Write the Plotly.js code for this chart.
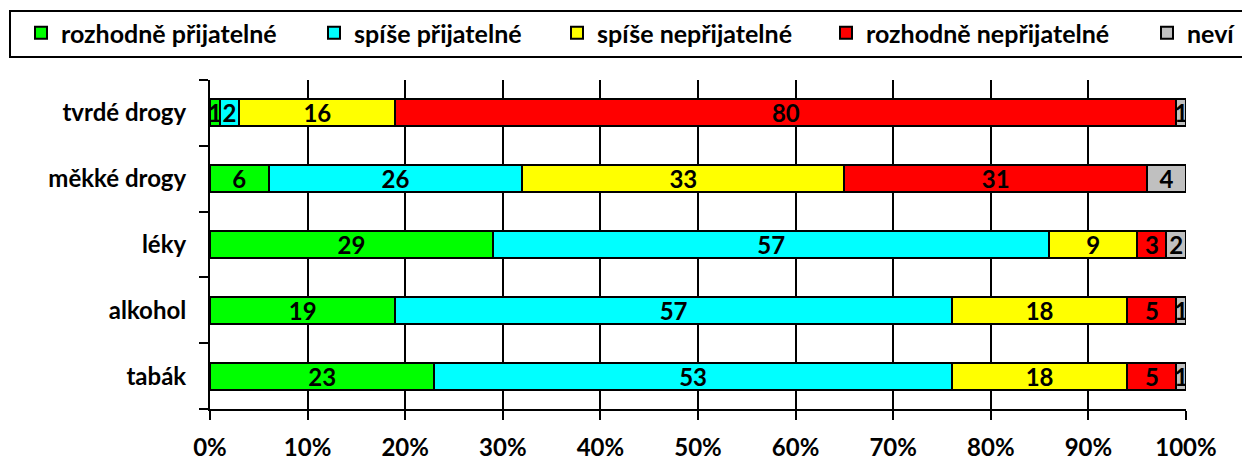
<!DOCTYPE html>
<html>
<head>
<meta charset="utf-8">
<script src="https://cdn.plot.ly/plotly-3.0.1.min.js"></script>
<style>html,body{margin:0;padding:0;background:#fff;}#chart{width:1242px;height:463px;}</style>
</head>
<body>
<div id="chart"></div>
<script>
// Categories, bottom to top
const categories = ['tabák', 'alkohol', 'léky', 'měkké drogy', 'tvrdé drogy'];
const seriesNames = ['rozhodně přijatelné', 'spíše přijatelné', 'spíše nepřijatelné', 'rozhodně nepřijatelné', 'neví'];
const rozhodnePrijatelne   = [23, 19, 29, 6, 1];
const spisePrijatelne      = [53, 57, 57, 26, 2];
const spiseNeprijatelne    = [18, 18, 9, 33, 16];
const rozhodneNeprijatelne = [5, 5, 3, 31, 80];
const nevi                 = [1, 1, 2, 4, 1];
const xTickValues = [0, 10, 20, 30, 40, 50, 60, 70, 80, 90, 100];

const seriesValues = [rozhodnePrijatelne, spisePrijatelne, spiseNeprijatelne, rozhodneNeprijatelne, nevi];
const colors = ['#00FF00', '#00FFFF', '#FFFF00', '#FF0000', '#C0C0C0'];
const FONT = 'Lato, Carlito, Calibri, "Open Sans", sans-serif';
const legendIds = ['legend', 'legend2', 'legend3', 'legend4', 'legend5'];
const legendSquareX = [37, 330, 573, 842, 1163]; // pixel position of each legend entry

const traces = seriesValues.map((vals, i) => ({
  type: 'bar',
  orientation: 'h',
  name: seriesNames[i],
  legend: legendIds[i],
  y: categories,
  x: vals,
  text: vals.map(String),
  textposition: 'inside',
  insidetextanchor: 'middle',
  constraintext: 'none',
  textangle: 0,
  textfont: {family: FONT, size: 24, color: '#000', weight: 700},
  marker: {color: colors[i], line: {color: '#000', width: 2}},
  hoverinfo: 'none'
}));

const plotW = 1242 - 210 - 56;
const plotH = 463 - 80 - 54;
const px = v => (v - 210) / plotW;
const py = v => (409 - v) / plotH;

const layout = {
  width: 1242, height: 463,
  margin: {l: 210, r: 56, t: 80, b: 54, autoexpand: false},
  barmode: 'stack',
  bargap: 0.59,
  paper_bgcolor: '#fff', plot_bgcolor: '#fff',
  font: {family: FONT, size: 24, color: '#000', weight: 700},
  showlegend: true,
  xaxis: {
    range: [0, 100],
    tickmode: 'array', tickvals: xTickValues,
    ticktext: xTickValues.map(v => v + '%'),
    showgrid: true, gridcolor: '#000', gridwidth: 2,
    showline: true, linecolor: '#000', linewidth: 2,
    ticks: 'outside', ticklen: 9, tickwidth: 2, tickcolor: '#000',
    ticklabelstandoff: 7,
    zeroline: false, fixedrange: true, automargin: false,
    tickfont: {family: FONT, size: 24, color: '#000', weight: 700}
  },
  yaxis: {
    type: 'category',
    categoryorder: 'array', categoryarray: categories,
    showgrid: false,
    showline: true, linecolor: '#000', linewidth: 2,
    ticks: 'outside', ticklen: 9, tickwidth: 2, tickcolor: '#000',
    tickson: 'boundaries',
    ticklabelstandoff: 17,
    zeroline: false, fixedrange: true, automargin: false,
    tickfont: {family: FONT, size: 24, color: '#000', weight: 700}
  },
  shapes: [{
    type: 'rect', xref: 'paper', yref: 'paper',
    x0: px(10), x1: px(1260), y0: py(57), y1: py(11),
    line: {color: '#000', width: 2}, fillcolor: 'rgba(0,0,0,0)', layer: 'below'
  }]
};

legendIds.forEach((id, i) => {
  layout[id] = {
    orientation: 'h',
    x: px(legendSquareX[i] - 16), y: py(33), xanchor: 'left', yanchor: 'middle',
    font: {family: FONT, size: 25, color: '#000', weight: 700},
    bgcolor: 'rgba(0,0,0,0)', borderwidth: 0
  };
});

Plotly.newPlot('chart', traces, layout, {displayModeBar: false, staticPlot: true});
</script>
</body>
</html>
